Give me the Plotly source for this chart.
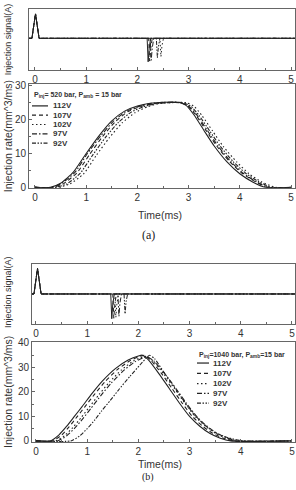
import plotly.graph_objects as go

W, H = 296, 490

VOLTS = ["112V", "107V", "102V", "97V", "92V"]
DASHES = ["solid", "4px,3px", "1.5px,2.5px", "5px,2px,1.5px,2px", "4px,1.5px,1.5px,1.5px,1.5px,1.5px"]

# ---------------- panel (a): P_inj = 520 bar ----------------
T_A = {
    "112V": [0, 0.3, 0.5, 0.75, 1.0, 1.25, 1.5, 1.75, 2.0, 2.25, 2.5, 2.8, 2.95, 3.1, 3.3, 3.5, 3.75, 4.0, 4.25, 4.5, 5.0],
    "107V": [0, 0.35, 0.56, 0.82, 1.07, 1.32, 1.57, 1.82, 2.07, 2.32, 2.56, 2.82, 2.98, 3.14, 3.34, 3.55, 3.8, 4.05, 4.3, 4.55, 5.0],
    "102V": [0, 0.45, 0.68, 0.95, 1.2, 1.45, 1.7, 1.95, 2.2, 2.42, 2.65, 2.95, 3.1, 3.26, 3.47, 3.68, 3.94, 4.18, 4.43, 4.7, 5.0],
    "97V":  [0, 0.32, 0.52, 0.78, 1.02, 1.28, 1.53, 1.78, 2.03, 2.28, 2.52, 2.82, 2.99, 3.16, 3.37, 3.58, 3.83, 4.08, 4.33, 4.56, 5.0],
    "92V":  [0, 0.4, 0.62, 0.88, 1.13, 1.38, 1.63, 1.88, 2.12, 2.36, 2.6, 2.88, 3.04, 3.2, 3.41, 3.62, 3.87, 4.12, 4.37, 4.62, 5.0],
}
RATE_A = {
    "112V": [0, 0, 1.2, 4.5, 10, 15.2, 19.6, 22.5, 24.0, 24.8, 25.1, 25.1, 24.2, 21.5, 16.8, 12.2, 7.5, 4.0, 1.6, 0, 0],
    "107V": [0, 0, 1.1, 4.3, 9.8, 15.0, 19.4, 22.4, 23.9, 24.7, 25.0, 25.0, 24.1, 21.4, 16.8, 12.2, 7.6, 4.1, 1.7, 0, 0],
    "102V": [0, 0, 1.0, 4.0, 9.5, 14.6, 19.0, 22.0, 23.8, 24.7, 25.0, 25.0, 24.0, 21.2, 16.6, 12.0, 7.5, 4.0, 1.6, 0, 0],
    "97V":  [0, 0, 1.2, 4.4, 9.9, 15.1, 19.5, 22.4, 23.9, 24.8, 25.1, 25.1, 24.1, 21.4, 16.7, 12.1, 7.5, 4.0, 1.6, 0, 0],
    "92V":  [0, 0, 1.0, 4.1, 9.6, 14.8, 19.2, 22.2, 23.8, 24.7, 25.0, 25.0, 24.0, 21.3, 16.7, 12.1, 7.6, 4.1, 1.7, 0, 0],
}
TS_A = {
    "112V": [-0.12, -0.06, 0.01, 0.08, 2.19, 2.21, 2.23, 2.26, 5.1],
    "107V": [-0.12, -0.06, 0.01, 0.08, 2.22, 2.24, 2.26, 2.29, 5.1],
    "102V": [-0.12, -0.06, 0.01, 0.08, 2.44, 2.46, 2.48, 2.51, 5.1],
    "97V":  [-0.12, -0.06, 0.01, 0.08, 2.25, 2.27, 2.29, 2.32, 5.1],
    "92V":  [-0.12, -0.06, 0.01, 0.08, 2.37, 2.39, 2.41, 2.44, 5.1],
}
SIG_A = {
    "112V": [0, 0, 1, 0, 0, -0.96, -0.4, 0, 0],
    "107V": [0, 0, 1, 0, 0, -0.93, -0.4, 0, 0],
    "102V": [0, 0, 1, 0, 0, -0.75, -0.3, 0, 0],
    "97V":  [0, 0, 1, 0, 0, -0.9, -0.4, 0, 0],
    "92V":  [0, 0, 1, 0, 0, -0.8, -0.35, 0, 0],
}

# ---------------- panel (b): P_inj = 1040 bar ----------------
T_B = {
    "112V": [0, 0.28, 0.45, 0.6, 0.75, 0.9, 1.1, 1.3, 1.55, 1.8, 2.0, 2.08, 2.2, 2.4, 2.6, 2.8, 3.0, 3.2, 3.4, 3.6, 3.8, 5.0],
    "107V": [0, 0.32, 0.5, 0.65, 0.8, 0.95, 1.15, 1.35, 1.6, 1.85, 2.04, 2.12, 2.24, 2.45, 2.65, 2.85, 3.05, 3.25, 3.45, 3.65, 3.85, 5.0],
    "102V": [0, 0.38, 0.56, 0.72, 0.88, 1.03, 1.23, 1.43, 1.67, 1.9, 2.07, 2.15, 2.28, 2.49, 2.7, 2.9, 3.1, 3.3, 3.5, 3.7, 3.9, 5.0],
    "97V":  [0, 0.42, 0.6, 0.76, 0.92, 1.07, 1.27, 1.47, 1.71, 1.93, 2.1, 2.18, 2.3, 2.52, 2.73, 2.93, 3.13, 3.33, 3.53, 3.73, 3.95, 5.0],
    "92V":  [0, 0.68, 0.85, 1.0, 1.15, 1.28, 1.45, 1.62, 1.84, 2.03, 2.16, 2.22, 2.32, 2.5, 2.7, 2.9, 3.1, 3.3, 3.5, 3.75, 4.05, 5.0],
}
RATE_B = {
    "112V": [0, 0, 2.5, 6, 10, 14, 19.5, 24.5, 29.5, 33, 34.7, 35, 33, 27.5, 21.5, 15.5, 10, 6, 3, 1.1, 0, 0],
    "107V": [0, 0, 2.4, 5.8, 9.8, 13.8, 19.2, 24.2, 29.3, 32.9, 34.6, 34.9, 33, 27.6, 21.6, 15.6, 10.1, 6.1, 3.1, 1.2, 0, 0],
    "102V": [0, 0, 2.2, 5.5, 9.5, 13.5, 18.9, 23.9, 29.0, 32.6, 34.2, 34.5, 32.8, 27.5, 21.5, 15.6, 10.2, 6.2, 3.2, 1.2, 0, 0],
    "97V":  [0, 0, 2.1, 5.3, 9.2, 13.2, 18.6, 23.6, 28.7, 32.3, 34.0, 34.3, 32.7, 27.4, 21.5, 15.6, 10.2, 6.2, 3.2, 1.2, 0, 0],
    "92V":  [0, 0, 2.0, 5.0, 8.6, 12.2, 16.5, 21.0, 26.5, 31.0, 34.0, 35.0, 33.5, 28.0, 22.0, 16.0, 10.5, 6.4, 3.4, 1.3, 0, 0],
}
TS_B = {
    "112V": [-0.1, -0.04, 0.03, 0.1, 1.46, 1.48, 1.5, 1.53, 5.1],
    "107V": [-0.1, -0.04, 0.03, 0.1, 1.5, 1.52, 1.54, 1.57, 5.1],
    "102V": [-0.1, -0.04, 0.03, 0.1, 1.54, 1.56, 1.58, 1.61, 5.1],
    "97V":  [-0.1, -0.04, 0.03, 0.1, 1.6, 1.62, 1.64, 1.67, 5.1],
    "92V":  [-0.1, -0.04, 0.03, 0.1, 1.72, 1.74, 1.76, 1.79, 5.1],
}
SIG_B = {
    "112V": [0, 0, 1, 0, 0, -0.97, -0.4, 0, 0],
    "107V": [0, 0, 1, 0, 0, -0.95, -0.4, 0, 0],
    "102V": [0, 0, 1, 0, 0, -0.92, -0.4, 0, 0],
    "97V":  [0, 0, 1, 0, 0, -0.88, -0.35, 0, 0],
    "92V":  [0, 0, 1, 0, 0, -0.78, -0.3, 0, 0],
}

X_TICKS = [0, 1, 2, 3, 4, 5]
Y_TICKS_A = [0, 10, 20, 30]
Y_TICKS_B = [0, 10, 20, 30, 40]
LEG_A_TITLE = "P<sub>inj</sub>= 520 bar, P<sub>amb</sub> = 15 bar"
LEG_B_TITLE = "P<sub>inj</sub>=1040 bar, P<sub>amb</sub>=15 bar"

# ---------------- layout helpers (pixel boxes) ----------------
def px_x(p):
    return p / W

def px_y(p):
    return 1 - p / H

LINE_COL = "#222222"
AX_COL = "#666666"
FONT = "Liberation Sans, Arial, sans-serif"

fig = go.Figure()

# axes ids: a-top x/y, a-bottom x2/y2, b-top x3/y3, b-bottom x4/y4
panels = [
    ("x", "y", TS_A, SIG_A, False),
    ("x2", "y2", T_A, RATE_A, True),
    ("x3", "y3", TS_B, SIG_B, False),
    ("x4", "y4", T_B, RATE_B, True),
]
for xa, ya, TT, VV, smooth in panels:
    for v, d in zip(VOLTS, DASHES):
        fig.add_trace(go.Scatter(
            x=TT[v], y=VV[v], xaxis=xa, yaxis=ya, mode="lines",
            line=dict(color=LINE_COL, width=1.1 if smooth else 1.0, dash=d,
                      shape="spline" if smooth else "linear", smoothing=0.55 if smooth else None),
            showlegend=False, hoverinfo="skip", cliponaxis=True))

common_ax = dict(showline=True, mirror=True, linecolor=AX_COL, linewidth=1,
                 showgrid=False, zeroline=False, ticks="inside", ticklen=3,
                 tickcolor=AX_COL, tickfont=dict(family=FONT, size=10, color="#333"))
xminor = dict(ticks="inside", ticklen=2, tickcolor=AX_COL, dtick=0.5, showgrid=False)
noticks = {k: v for k, v in common_ax.items() if k != "ticks"}

layout = dict(
    width=W, height=H, margin=dict(l=0, r=0, t=0, b=0),
    paper_bgcolor="white", plot_bgcolor="white", showlegend=False,
    xaxis=dict(domain=[px_x(29), px_x(295)], range=[-0.117, 5.078], anchor="y",
               tickvals=X_TICKS, minor=xminor, **common_ax),
    yaxis=dict(domain=[px_y(66), px_y(4)], range=[-1.28, 1.2], anchor="x",
               showticklabels=False, ticks="", **noticks),
    xaxis2=dict(domain=[px_x(29), px_x(295)], range=[-0.117, 5.078], anchor="y2",
                tickvals=X_TICKS, minor=xminor, **common_ax),
    yaxis2=dict(domain=[px_y(186.5), px_y(81)], range=[-0.1, 30.4], anchor="x2",
                tickvals=Y_TICKS_A, minor=dict(ticks="inside", ticklen=2, tickcolor=AX_COL, dtick=5),
                **common_ax),
    xaxis3=dict(domain=[px_x(32), px_x(295)], range=[-0.078, 5.059], anchor="y3",
                tickvals=X_TICKS, minor=xminor, **common_ax),
    yaxis3=dict(domain=[px_y(326), px_y(264)], range=[-1.19, 1.19], anchor="x3",
                showticklabels=False, ticks="", **noticks),
    xaxis4=dict(domain=[px_x(32), px_x(295)], range=[-0.078, 5.059], anchor="y4",
                tickvals=X_TICKS, minor=xminor, **common_ax),
    yaxis4=dict(domain=[px_y(446), px_y(344)], range=[-0.4, 40.4], anchor="x4",
                tickvals=Y_TICKS_B, minor=dict(ticks="inside", ticklen=2, tickcolor=AX_COL, dtick=5),
                **common_ax),
)
fig.update_layout(**layout)

ann = []
def label(text, x, y, size, angle=0, xanchor="center", yanchor="middle", family=FONT, bold=False, color="#333"):
    ann.append(dict(text=f"<b>{text}</b>" if bold else text, x=px_x(x), y=px_y(y), xref="paper", yref="paper",
                    showarrow=False, textangle=angle, xanchor=xanchor, yanchor=yanchor,
                    font=dict(family=family, size=size, color=color)))

# axis titles
label("Injection signal(A)", 8, 35, 9, angle=-90)
label("Injection rate(mm^3/ms)", 8, 134, 10.5, angle=-90)
label("Injection signal(A)", 8, 293, 9, angle=-90)
label("Injection rate(mm^3/ms)", 8, 395, 10.5, angle=-90)
label("Time(ms)", 160, 214, 10.5)
label("Time(ms)", 160, 469, 10.5)
label("(a)", 148, 235, 12, family="Liberation Serif, Times New Roman, serif", color="#222")
label("(b)", 148, 490, 10, yanchor="bottom", family="Liberation Serif, Times New Roman, serif", color="#222")

# legends (manual, Origin style)
shapes = []
def legend(x0, ytitle, ys, title, line_len, text_x):
    label(title, x0, ytitle, 7, xanchor="left", bold=True)
    for v, d, yy in zip(VOLTS, DASHES, ys):
        shapes.append(dict(type="line", xref="paper", yref="paper",
                           x0=px_x(x0), x1=px_x(x0 + line_len), y0=px_y(yy), y1=px_y(yy),
                           line=dict(color=LINE_COL, width=1.2, dash=d)))
        label(v, text_x, yy, 8, xanchor="left", bold=True)

legend(32, 92, [103, 112.5, 122, 131.5, 141], LEG_A_TITLE, 16, 51)
legend(197, 357, [365.5, 376, 386.5, 396.5, 406.5], LEG_B_TITLE, 12, 211)

fig.update_layout(annotations=ann, shapes=shapes)
fig.write_html("out.html")
